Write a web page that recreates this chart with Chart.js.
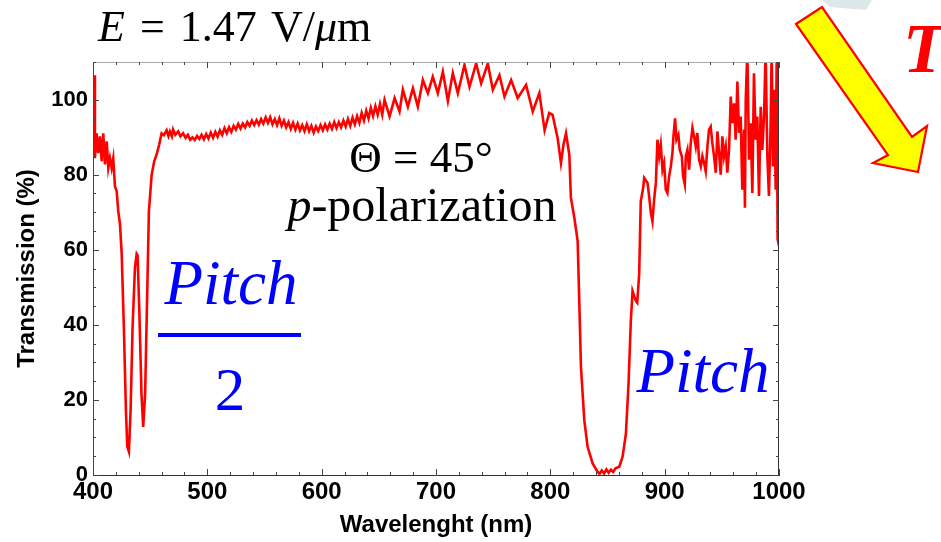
<!DOCTYPE html>
<html>
<head>
<meta charset="utf-8">
<script src="https://cdn.jsdelivr.net/npm/chart.js@4.4.1/dist/chart.umd.min.js"></script>
<style>
  body { margin: 0; background: #fff; }
  #wrap { position: relative; width: 941px; height: 542px; overflow: hidden; }
  #c { position: absolute; left: 0; top: 0; }
  .note { position: absolute; font-family: "Liberation Serif", "DejaVu Serif", serif; line-height: 1; white-space: nowrap; }
  .blue { color: #0000ff; font-style: italic; }
</style>
</head>
<body>
<div id="wrap">
  <canvas id="c" width="941" height="542"></canvas>
  <svg style="position:absolute;left:0;top:0" width="941" height="542">
    <polygon points="822,0 872,0 866,10 830,7" fill="#dde8ea" />
    <polygon points="796,24 822,7 912,137 927,126 918,172 873,163 888,155" fill="#ffff00" stroke="#ff0000" stroke-width="2.2" stroke-linejoin="miter" />
  </svg>
  <div class="note" style="left:98px;top:5px;font-size:44px;word-spacing:4px;"><i>E</i> = 1.47 V/<i>μ</i>m</div>
  <div class="note" style="left:321px;top:135px;width:200px;text-align:center;font-size:45px;">Θ = 45°</div>
  <div class="note" style="left:272px;top:181px;width:300px;text-align:center;font-size:48px;"><i>p</i>-polarization</div>
  <div class="note blue" style="left:131px;top:252px;width:200px;text-align:center;font-size:63px;">Pitch</div>
  <div style="position:absolute;left:158px;top:333px;width:143px;height:4px;background:#0000ff;"></div>
  <div class="note" style="left:130px;top:359px;width:200px;text-align:center;font-size:61px;color:#0000ff;">2</div>
  <div class="note blue" style="left:603px;top:340px;width:200px;text-align:center;font-size:63px;">Pitch</div>
  <div class="note" style="left:903px;top:14px;font-size:70px;font-weight:bold;font-style:italic;color:#ff0000;">T</div>
</div>
<script>
// Transmission spectrum
const wavelength = [
  401, 401.7, 403.2, 404.6, 406.1, 407.6, 409, 410.5, 412, 413.4, 414.8, 416.3, 417.7, 419.2, 420.7,
  422.1, 423.6, 425.1, 427, 428.8, 430, 431.4, 432.9, 434.6, 436.7, 438.2, 439, 440.5, 442.4, 443.9,
  445.6, 447.4, 448.9, 451.3, 453.6, 455.6, 457.9, 460, 462, 464.4, 466, 467.3, 469, 470.1, 472,
  474.5, 476.5, 478.8, 481, 483, 485, 487, 489, 491, 493, 495, 497, 499, 501, 503,
  505, 507, 509, 511, 513, 515, 517, 519, 521, 523, 525, 527, 529, 531, 533,
  535, 537, 539, 541, 543, 545, 547, 549, 551, 553, 555, 557, 559, 561, 563,
  565, 567, 569, 571, 573, 575, 577, 579, 581, 583, 585, 587, 589, 591, 593,
  595, 597, 599, 601, 603, 605, 607, 609, 611, 613, 615, 617, 619, 621, 623,
  625, 627, 629, 631, 633, 635, 637, 639, 641, 643, 645, 647, 649, 651, 653,
  655, 659.4, 663.8, 668.1, 671, 675.4, 679.8, 684.1, 688.5, 692.9, 697.2, 701.6, 706, 710.4, 714.7,
  719.1, 724.9, 729.3, 735.1, 739.5, 745.3, 749.7, 755.5, 759.9, 765.7, 771.5, 778.8, 784.6, 790.4, 795,
  799, 802, 806.4, 809.3, 811.5, 813.7, 816.6, 818, 821, 823.9, 825.3, 826.8, 829.7, 832.6, 837,
  841.3, 843, 845, 847, 849, 851, 853, 855, 857, 860.3, 863.2, 866.1, 868.4, 870.4, 871.9,
  873.5, 874.8, 876, 877.7, 879.1, 881.2, 882.1, 885, 886.4, 887.9, 889.3, 890.8, 892.3, 893.7, 895.2,
  896.6, 898.1, 899.5, 901, 902.4, 903.9, 905.4, 906.8, 907.7, 909.1, 910.3, 912, 913.2, 915, 916.1,
  917.6, 918.5, 919.9, 921.4, 922.8, 924.3, 925.7, 927.2, 928.6, 930.1, 931.6, 933, 934.5, 935.9, 937.4,
  938.8, 940.3, 941.7, 943.2, 944.7, 946.1, 947.6, 949, 950.5, 951.9, 953.4, 954.8, 956.3, 957.8, 959.2,
  960.7, 962.1, 963.6, 965, 966.5, 967.9, 969.4, 970.2, 970.9, 972.3, 973.8, 975.2, 976.7, 978.1, 979.6,
  981, 982.5, 984, 985.4, 986.9, 988.3, 989.8, 991.2, 992.7, 993.6, 994.7, 995.9, 997.1, 998, 998.8,
  1000
];
const transmission = [
  106.5, 84.4, 91, 85.7, 90.2, 83.6, 91, 82.7, 88.9, 81.8, 84.4, 81.8, 84.4, 76.9, 75.6,
  70.3, 66.8, 58.9, 39.3, 17.2, 7.5, 6.2, 17.2, 39.3, 55.3, 58.9, 58.5, 43.8, 21.7, 12.8,
  21.7, 48.2, 70.3, 80, 83.6, 85.3, 88, 91, 90.5, 91.8, 90.3, 91.5, 90.2, 92, 90.6,
  91.5, 90.2, 91, 89.8, 90.6, 89.3, 89.9, 89.2, 90.3, 89.5, 90.6, 89.4, 90.8, 89.6, 91.2,
  89.8, 91.4, 90.1, 91.8, 90.6, 92.4, 91, 92.6, 91.4, 93, 92, 93.5, 92.3, 93.6, 92.6,
  94, 93, 94.4, 93.2, 94.5, 93.3, 94.8, 93.6, 95.2, 93.8, 95.3, 93.4, 94.8, 93.2, 95,
  93, 94.4, 92.6, 94, 92.2, 93.8, 92, 93.6, 91.8, 93.2, 91.6, 93.4, 91.6, 93, 91.2,
  92.8, 91.6, 93.2, 91.8, 93.4, 92, 93.6, 92.2, 94, 92.4, 94, 92.6, 94.4, 92.8, 94.8,
  93, 95.2, 93.4, 95.6, 93.8, 96.4, 94.4, 97, 95, 97.8, 95.6, 98.2, 96, 98.8, 96,
  99.9, 95.5, 100.4, 96.8, 102.6, 98.1, 103, 98.1, 105.2, 101.7, 106.1, 101.7, 107.4, 99.6, 107,
  101.7, 109.2, 103.4, 109.6, 104.3, 109.6, 102.6, 106.5, 100.8, 105.2, 100.4, 103.9, 96.8, 101.7, 91.8,
  96.4, 95.9, 89.7, 83.1, 88, 91, 85.3, 73.8, 68.5, 62.3, 46.4, 28.7, 14.6, 7.5, 3.1,
  0.9, 0.3, 1.2, 0.4, 1.5, 0.6, 1.4, 0.8, 1.8, 2.2, 4.9, 11, 24.3, 41, 49,
  47.5, 46.4, 45.9, 53.5, 72.9, 76.5, 79.1, 77.8, 74.3, 69.9, 67.6, 73.4, 77.8, 89.3, 84.9,
  88, 81.3, 83.1, 76, 75.1, 79.6, 82.2, 85.8, 90.2, 95, 89.3, 90.6, 86.6, 84.9, 79.6,
  77.4, 84.9, 86.6, 81.3, 88.4, 92.4, 90.2, 87.5, 91.1, 84, 82.2, 84.9, 83.1, 80.9, 87.5,
  92, 92.8, 88.4, 84.9, 80.5, 91.5, 85.8, 80, 90.2, 84.9, 87.5, 80.5, 86.6, 100.8, 93.7,
  99, 89.3, 104.8, 91.1, 95.5, 76, 92, 71.2, 99.9, 113, 84, 93.7, 75.1, 107, 89.3,
  95.5, 74.3, 98.1, 86.6, 95.5, 113, 84.9, 74.3, 93.7, 113, 82.2, 102.6, 76, 113, 62.8,
  61
];
const xTickLabels = ["400", "500", "600", "700", "800", "900", "1000"];
const yTickLabels = ["0", "20", "40", "60", "80", "100"];

const xTickFont = { family: "Liberation Sans", size: 24, weight: "bold" };
const yTickFont = { family: "Liberation Sans", size: 22, weight: "bold" };
const titleFont = { family: "Liberation Sans", size: 24, weight: "bold" };

// inward ticks on all four sides + grey frame
const frameTicks = {
  id: "frameTicks",
  afterDraw(chart) {
    const ctx = chart.ctx;
    const a = chart.chartArea;
    const xs = chart.scales.x, ys = chart.scales.y;
    ctx.save();
    ctx.lineWidth = 1;
    ctx.strokeStyle = "#aaaaaa";
    ctx.beginPath();
    ctx.moveTo(a.left, a.top + 0.5);
    ctx.lineTo(a.right, a.top + 0.5);
    ctx.stroke();
    ctx.strokeStyle = "#333333";
    ctx.beginPath();
    ctx.moveTo(a.right - 0.5, a.top);
    ctx.lineTo(a.right - 0.5, a.bottom);
    ctx.stroke();
    ctx.strokeStyle = "#444444";
    for (let v = 400; v <= 1000; v += 20) {
      const px = Math.round(xs.getPixelForValue(v)) + 0.5;
      const len = v % 100 === 0 ? 6 : 3;
      ctx.beginPath();
      ctx.moveTo(px, a.bottom); ctx.lineTo(px, a.bottom - len);
      ctx.moveTo(px, a.top); ctx.lineTo(px, a.top + len);
      ctx.stroke();
    }
    for (let v = 0; v <= 110; v += 5) {
      const py = Math.round(ys.getPixelForValue(v)) + 0.5;
      const len = v % 20 === 0 ? 6 : 3;
      ctx.beginPath();
      ctx.moveTo(a.left, py); ctx.lineTo(a.left + len, py);
      ctx.moveTo(a.right, py); ctx.lineTo(a.right - len, py);
      ctx.stroke();
    }
    ctx.restore();
  }
};

new Chart(document.getElementById("c"), {
  type: "line",
  data: {
    datasets: [{
      data: wavelength.map((w, i) => ({ x: w, y: transmission[i] })),
      borderColor: "#ff0000",
      borderWidth: 2.6,
      pointRadius: 0,
      tension: 0
    }]
  },
  options: {
    responsive: false,
    animation: false,
    layout: { padding: { top: 62, right: 162, left: 0, bottom: 0 } },
    plugins: { legend: { display: false }, tooltip: { enabled: false } },
    scales: {
      x: {
        type: "linear",
        min: 400, max: 1000,
        afterFit: s => { s.height = 67; },
        grid: { display: false, drawTicks: false },
        border: { display: true, color: "#333333", width: 1 },
        ticks: {
          stepSize: 100, padding: 3, color: "#000", font: xTickFont,
          maxRotation: 0, autoSkip: false, includeBounds: false,
          callback: v => xTickLabels.includes(String(v)) ? String(v) : ""
        },
        title: { display: true, text: "Wavelenght (nm)", color: "#000", font: titleFont, padding: { top: 0, bottom: 2 } }
      },
      y: {
        min: 0, max: 110,
        afterFit: s => { s.width = 93; },
        grid: { display: false, drawTicks: false },
        border: { display: true, color: "#444444", width: 1 },
        ticks: {
          stepSize: 20, padding: 5, color: "#000", font: yTickFont, includeBounds: false,
          callback: v => yTickLabels.includes(String(v)) ? String(v) : ""
        },
        title: { display: true, text: "Transmission (%)", color: "#000", font: titleFont, padding: { top: 13, bottom: 0 } }
      }
    }
  },
  plugins: [frameTicks]
});
</script>
</body>
</html>
